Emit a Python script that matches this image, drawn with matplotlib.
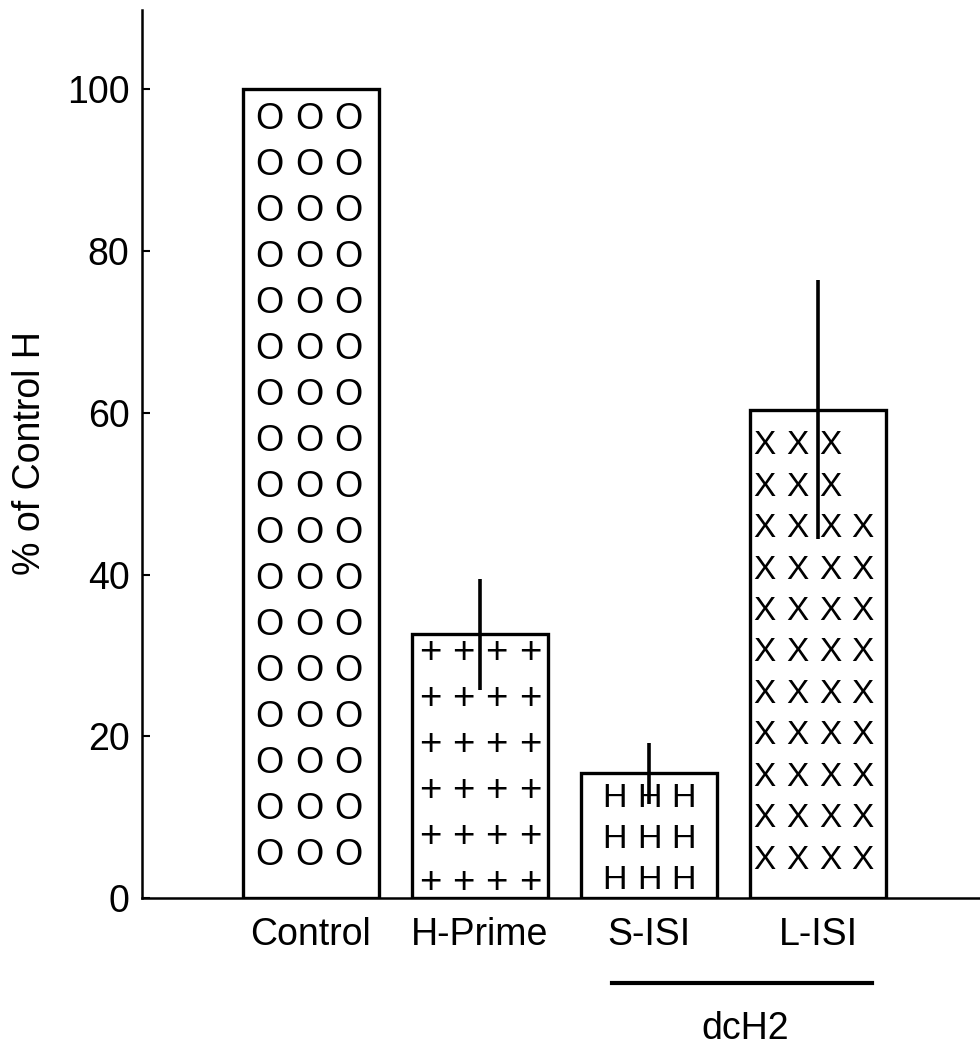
import matplotlib
matplotlib.use('Agg')
import matplotlib.pyplot as plt
from matplotlib import transforms

# ---- data ----
categories = ['Control', 'H-Prime', 'S-ISI', 'L-ISI']
values = [100.0, 32.6, 15.4, 60.4]
errors = [0.0, 6.9, 3.8, 16.0]
yticks = [0, 20, 40, 60, 80, 100]
ylabel = '% of Control H'
group_label = 'dcH2'

# ---- style ----
plt.rcParams['font.family'] = ['Liberation Sans', 'DejaVu Sans']
FS = 27

# glyph fill patterns (decoration)
patterns = [
    dict(ch='O', size=26, cols=3, dx=0.236, shift=-0.012, bottom=5.69, dy=5.69, rows=17, short_rows=0),
    dict(ch='+', size=27.5, cols=4, dx=0.197, shift=0.0, bottom=2.35, dy=5.69, rows=6, short_rows=0),
    dict(ch='H', size=24.5, cols=3, dx=0.204, shift=0.0, bottom=2.6, dy=5.07, rows=3, short_rows=0),
    dict(ch='X', size=24, cols=4, dx=0.195, shift=-0.027, bottom=5.07, dy=5.13, rows=11, short_rows=2),
]

W, H = 980, 1045
fig = plt.figure(figsize=(W / 100, H / 100), dpi=100)
ax = fig.add_axes([142 / W, 147 / H, 838 / W, 888 / H])

x = list(range(1, len(categories) + 1))
ax.bar(x, values, width=0.8, color='white', edgecolor='black', linewidth=2.4, zorder=2)
ax.errorbar(x, values, yerr=errors, fmt='none', ecolor='black', elinewidth=2.6,
            capsize=0, zorder=4)

# glyph patterns inside bars
for xi, p in zip(x, patterns):
    off = transforms.ScaledTranslation(0, -0.716 * p['size'] / 2 / 72, fig.dpi_scale_trans)
    tr = ax.transData + off
    for r in range(p['rows']):
        yc = p['bottom'] + r * p['dy']
        ncols = p['cols']
        if r >= p['rows'] - p['short_rows']:
            ncols = p['cols'] - 1
        for c in range(ncols):
            xc = xi + p['shift'] + (c - (p['cols'] - 1) / 2) * p['dx']
            ax.text(xc, yc, p['ch'], transform=tr, ha='center', va='baseline',
                    fontsize=p['size'], color='black', zorder=3)

ax.set_xlim(0, 838 / 169)
ax.set_ylim(0, 109.8)
ax.set_yticks(yticks)
ax.set_xticks(x)
ax.set_xticklabels(categories, fontsize=FS)
ax.tick_params(axis='x', length=0, pad=13.5)
ax.tick_params(axis='y', direction='in', length=6, width=1.5, pad=9, labelsize=FS)
for s in ['top', 'right']:
    ax.spines[s].set_visible(False)
for s in ['left', 'bottom']:
    ax.spines[s].set_linewidth(1.8)

# group bracket for dcH2
trans = transforms.blended_transform_factory(ax.transData, fig.transFigure)
ax.plot([x[2] - 0.22, x[3] + 0.32], [0.0593, 0.0593], transform=trans, clip_on=False,
        color='black', lw=3)
ax.text((x[2] + x[3]) / 2 + 0.07, 0.006, group_label, transform=trans, ha='center',
        va='baseline', fontsize=FS)

fig.text(30.5 / W, 1 - 453 / H, ylabel, rotation=90, ha='center', va='center', fontsize=FS)

fig.savefig('out.png', dpi=100)
